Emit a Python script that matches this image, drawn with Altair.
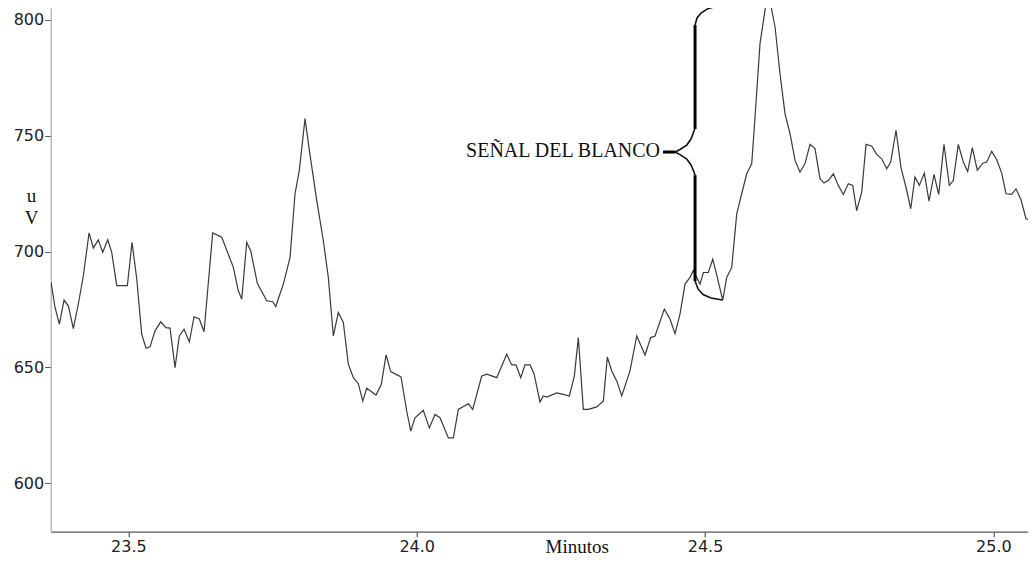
import altair as alt
import pandas as pd

# ---- signal trace (minutes, microvolts) ----
minutes = [
    23.3660, 23.3729, 23.3804, 23.3885, 23.3960, 23.4046, 23.4133, 23.4220, 23.4319, 23.4393,
    23.4480, 23.4556, 23.4643, 23.4712, 23.4799, 23.4983, 23.5064, 23.5146, 23.5232, 23.5307,
    23.5376, 23.5463, 23.5562, 23.5654, 23.5723, 23.5810, 23.5884, 23.5966, 23.6058, 23.6139,
    23.6231, 23.6313, 23.6463, 23.6620, 23.6821, 23.6907, 23.6966, 23.7053, 23.7122, 23.7237,
    23.7400, 23.7504, 23.7556, 23.7688, 23.7804, 23.7891, 23.7965, 23.8064, 23.8139, 23.8267,
    23.8381, 23.8468, 23.8555, 23.8641, 23.8728, 23.8815, 23.8902, 23.8988, 23.9065, 23.9134,
    23.9295, 23.9387, 23.9469, 23.9550, 23.9729, 23.9827, 23.9897, 23.9971, 24.0115, 24.0219,
    24.0318, 24.0405, 24.0549, 24.0636, 24.0722, 24.0896, 24.0972, 24.1128, 24.1215, 24.1388,
    24.1562, 24.1648, 24.1723, 24.1804, 24.1879, 24.1966, 24.2035, 24.2139, 24.2196, 24.2255,
    24.2428, 24.2543, 24.2647, 24.2734, 24.2803, 24.2890, 24.2976, 24.3122, 24.3237, 24.3306,
    24.3382, 24.3469, 24.3556, 24.3699, 24.3816, 24.3960, 24.4058, 24.4133, 24.4294, 24.4393,
    24.4480, 24.4566, 24.4653, 24.4740, 24.4797, 24.4913, 24.4971, 24.5057, 24.5134, 24.5213,
    24.5307, 24.5376, 24.5463, 24.5550, 24.5636, 24.5723, 24.5810, 24.5867, 24.5954, 24.6058,
    24.6139, 24.6214, 24.6300, 24.6387, 24.6474, 24.6561, 24.6647, 24.6734, 24.6821, 24.6907,
    24.6994, 24.7063, 24.7138, 24.7225, 24.7311, 24.7398, 24.7485, 24.7561, 24.7630, 24.7717,
    24.7792, 24.7891, 24.7977, 24.8064, 24.8151, 24.8220, 24.8312, 24.8399, 24.8485, 24.8567,
    24.8641, 24.8716, 24.8803, 24.8884, 24.8971, 24.9052, 24.9144, 24.9236, 24.9305, 24.9392,
    24.9479, 24.9555, 24.9635, 24.9722, 24.9815, 24.9885, 24.9971, 25.0058, 25.0145, 25.0219,
    25.0318, 25.0393, 25.0479, 25.0566, 25.0636, 25.0740,
]
microvolts = [
    686.7, 675.9, 668.7, 679.1, 676.6, 666.8, 677.4, 689.6, 708.1, 701.6,
    705.1, 699.7, 705.1, 699.7, 685.3, 685.3, 704.0, 688.2, 664.4, 658.3,
    658.9, 665.8, 669.7, 667.2, 667.0, 649.9, 663.6, 666.5, 661.0, 671.9,
    670.9, 665.4, 708.1, 706.2, 693.2, 683.1, 679.5, 704.0, 700.4, 686.3,
    678.8, 678.4, 676.3, 686.0, 697.5, 725.0, 735.1, 757.4, 743.7, 722.1,
    704.8, 688.9, 663.6, 673.7, 669.4, 651.4, 645.6, 643.0, 635.5, 641.0,
    638.1, 642.7, 655.4, 648.2, 645.9, 631.2, 622.5, 628.3, 631.5, 623.9,
    629.7, 628.3, 619.6, 619.6, 631.9, 634.3, 631.9, 646.3, 647.1, 645.6,
    655.7, 651.1, 651.1, 645.6, 651.1, 651.1, 647.3, 635.1, 637.7, 637.2,
    639.0, 638.4, 637.7, 646.3, 662.9, 631.9, 631.9, 633.0, 635.5, 654.5,
    648.5, 644.2, 637.7, 648.5, 663.6, 655.4, 662.9, 663.6, 675.2, 670.9,
    664.6, 673.0, 686.0, 688.9, 691.8, 686.0, 691.0, 691.0, 696.8, 688.9,
    679.1, 688.9, 693.2, 716.3, 725.0, 733.6, 738.0, 758.1, 789.9, 807.2,
    806.5, 797.1, 776.9, 759.6, 750.9, 739.4, 734.3, 738.0, 746.3, 744.5,
    731.5, 729.6, 730.7, 733.6, 728.6, 724.7, 729.3, 728.6, 717.7, 725.7,
    746.3, 745.5, 742.0, 740.1, 735.8, 738.7, 752.4, 736.2, 727.8, 718.5,
    732.2, 728.6, 733.9, 721.8, 733.3, 724.7, 746.3, 728.6, 730.7, 746.3,
    738.7, 734.6, 744.9, 735.1, 738.2, 738.7, 743.3, 739.7, 733.9, 725.0,
    724.7, 727.1, 722.4, 714.2, 713.4, 732.9,
]

# ---- brace annotation ("SEÑAL DEL BLANCO") in data units ----
curve_seg = ["upper"] * 6 + ["top"] * 6 + ["lower"] * 6 + ["bottom"] * 5
curve_min = [24.4480, 24.4566, 24.4683, 24.4757, 24.4809, 24.4827,
             24.4827, 24.4861, 24.4931, 24.5035, 24.5173, 24.5347,
             24.4480, 24.4566, 24.4683, 24.4757, 24.4809, 24.4827,
             24.4827, 24.4879, 24.4965, 24.5104, 24.5307]
curve_uv = [743.0, 744.1, 746.0, 748.6, 752.1, 753.5,
            797.8, 800.9, 803.0, 804.7, 805.8, 806.3,
            743.0, 741.9, 740.0, 737.4, 734.4, 733.0,
            687.3, 683.9, 681.5, 680.0, 679.1]

stem_seg = ["up", "up", "down", "down", "dash", "dash"]
stem_min = [24.4827, 24.4827, 24.4827, 24.4827, 24.4272, 24.4480]
stem_uv = [753.0, 797.8, 733.0, 687.3, 743.0, 743.0]

label_text = ["SEÑAL DEL BLANCO"]
label_min = [24.4272]
label_uv = [740.7]

x_ticks = [23.5, 24.0, 24.5, 25.0]
y_ticks = [600, 650, 700, 750, 800]

trace = pd.DataFrame({"t": minutes, "v": microvolts})
curve = pd.DataFrame({"t": curve_min, "v": curve_uv, "seg": curve_seg,
                      "i": list(range(len(curve_min)))})
stems = pd.DataFrame({"t": stem_min, "v": stem_uv, "seg": stem_seg,
                      "i": list(range(len(stem_min)))})
label = pd.DataFrame({"t": label_min, "v": label_uv, "txt": label_text})

W, H = 977.3, 523.7
x_dom = [23.3654, 23.3654 + W / 576.7]
y_dom = [805.18 - H / 2.3165, 805.18]

x_enc = alt.X(
    "t:Q",
    scale=alt.Scale(domain=x_dom, nice=False, zero=False),
    axis=alt.Axis(
        values=x_ticks, format=".1f", grid=False,
        title="Minutos", titleFont="Liberation Serif", titleFontSize=19,
        titleFontWeight="normal", titleColor="#111",
        titleX=526, titleY=21, titleAlign="center", titleBaseline="alphabetic",
        labelFont="DejaVu Sans", labelFontSize=16, labelColor="#222",
        labelPadding=2, tickSize=5, tickColor="#333",
        domainColor="#555", domainWidth=1.2,
    ),
)
y_enc = alt.Y(
    "v:Q",
    scale=alt.Scale(domain=y_dom, nice=False, zero=False),
    axis=alt.Axis(
        values=y_ticks, format="d", grid=False,
        title=["u", "V"], titleFont="Liberation Serif", titleFontSize=19,
        titleFontWeight="normal", titleColor="#111", titleAngle=0,
        titleX=-19.7, titleY=193.7, titleAlign="center",
        titleBaseline="alphabetic", titleLineHeight=22,
        labelFont="DejaVu Sans", labelFontSize=16, labelColor="#222",
        labelPadding=1, tickSize=6, tickColor="#555",
        domainColor="#aaa", domainWidth=1.2,
    ),
)

line = alt.Chart(trace).mark_line(color="#3a3a3a", strokeWidth=1.2, clip=True).encode(
    x=x_enc, y=y_enc
)
brace_curve = alt.Chart(curve).mark_line(color="#111", strokeWidth=1.6).encode(
    x=x_enc, y=y_enc, detail="seg:N", order="i:Q"
)
brace_stem = alt.Chart(stems).mark_line(color="#000", strokeWidth=3).encode(
    x=x_enc, y=y_enc, detail="seg:N", order="i:Q"
)
text = alt.Chart(label).mark_text(
    align="right", baseline="alphabetic", dx=-3,
    font="Liberation Serif", fontSize=20, color="#111",
).encode(x=x_enc, y=y_enc, text="txt:N")

chart = (
    alt.layer(line, brace_curve, brace_stem, text)
    .properties(
        width=W, height=H,
        autosize=alt.AutoSizeParams(type="none"),
        padding={"left": 42.7, "top": 0, "right": 0, "bottom": 25},
        background="white",
    )
    .configure_view(strokeWidth=0)
)

chart.save("out.html", embed_options={"renderer": "svg", "actions": False})
